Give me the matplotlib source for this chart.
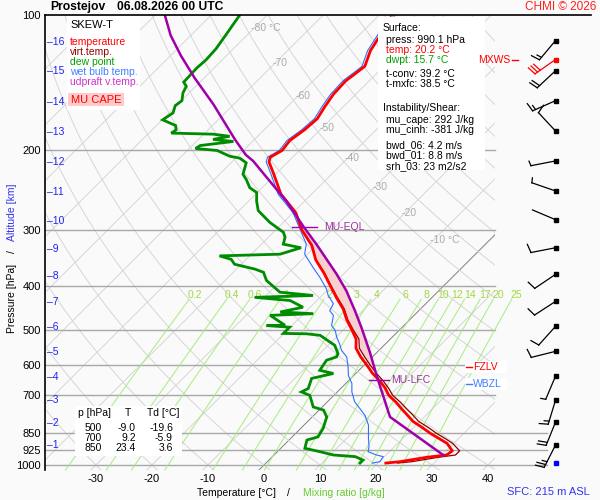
import numpy as np
import matplotlib
matplotlib.use("Agg")
import matplotlib.pyplot as plt
from matplotlib.patches import Rectangle

plt.rcParams['font.family'] = ['Liberation Sans', 'DejaVu Sans']

# ---------------- data ----------------
temp_p = [990, 983, 961, 950, 930, 895, 875, 850, 825, 800, 775, 750, 725, 700, 675, 650, 625,
          600, 575, 550, 525, 500, 475, 450, 425, 400, 375, 350, 325, 300, 275, 250, 225, 212,
          207, 200, 190, 180, 170, 160, 150, 140, 134, 130, 120, 110, 100]
temp_t = [21.4, 23.7, 27.7, 30.8, 31.1, 28.8, 26.7, 24.0, 21.5, 18.8, 16.7, 14.5, 12.3, 9.8, 7.9,
          5.6, 2.9, 0.5, -2.1, -4.5, -6.1, -8.6, -11.3, -13.8, -17.0, -20.2, -23.6, -27.5, -30.8,
          -35.4, -39.5, -45.5, -50.5, -53.4, -54.0, -53.1, -53.5, -52.8, -52.5, -53.3, -54.0,
          -54.2, -53.7, -53.4, -55.2, -56.3, -57.3]
virt_t = [23.5, 25.8, 29.8, 32.4, 32.4, 29.8, 27.8, 25.1, 22.6, 19.8, 17.7, 15.4, 13.1, 10.5, 8.5,
          6.2, 3.6, 1.1, -1.4, -3.9, -5.6, -8.35, -11.1, -13.6, -16.8, -20.1, -23.5, -27.45, -30.78,
          -35.4, -39.5, -45.5, -50.5, -53.4, -54.0, -53.1, -53.5, -52.8, -52.5, -53.3, -54.0,
          -54.2, -53.7, -53.4, -55.2, -56.3, -57.3]

dew_p = [990, 975, 958, 950, 934, 918, 880, 866, 829, 782, 755, 743, 700, 688, 676, 642, 626, 616,
         585, 575, 566, 542, 515, 511, 510, 494, 490, 489, 465, 461, 457, 446, 431, 424, 420, 413,
         389, 373, 367, 358, 349, 343, 340, 329, 323, 312, 304, 289, 272, 259, 248, 242, 232, 226,
         213, 208, 206, 200, 198, 195, 191, 189, 186, 184, 183, 180, 176, 171, 165, 159, 155, 149,
         144, 141, 131, 126, 119, 111, 105, 100]
dew_t = [16.8, 16.8, 14.8, 10.6, 7.6, 4.3, 3.2, 4.6, 4.0, 2.6, 0.8, -1.6, -4.3, -6.4, -5.8, -7.0,
         -4.0, -7.0, -7.6, -6.4, -6.7, -8.8, -13.2, -15.9, -20.1, -20.1, -24.5, -21.3, -25.7, -18.3,
         -24.5, -21.3, -24.8, -31.7, -21.6, -28.1, -32.6, -34.6, -36.7, -41.2, -42.7, -45.4, -34.9,
         -32.3, -36.1, -37.0, -38.2, -42.4, -46.6, -48.6, -50.1, -52.2, -54.3, -55.8, -57.3, -59.3,
         -61.4, -64.7, -68.9, -68.6, -63.4, -67.4, -65.0, -68.3, -76.0, -75.7, -76.6, -79.9, -79.3,
         -80.2, -79.9, -81.1, -81.7, -82.9, -83.1, -82.9, -83.1, -83.8, -84.4, -84.9]

wb_p = [990, 983, 958, 950, 934, 911, 873, 815, 775, 749, 724, 688, 659, 632, 606, 575, 556, 538,
        520, 502, 490, 465, 454, 438, 420, 406, 383, 364, 340, 323, 304, 275, 250, 225, 212, 207,
        200, 190, 180, 170, 160, 150, 140, 134, 130, 120, 110, 100]
wb_t = [19.0, 20.1, 19.8, 18.3, 16.2, 15.5, 13.9, 11.5, 9.1, 7.0, 4.9, 2.6, 1.1, -1.0, -2.5, -4.6,
        -6.7, -8.2, -9.9, -11.4, -12.9, -14.4, -15.9, -16.5, -18.9, -20.4, -23.6, -26.6, -30.5,
        -32.0, -35.0, -40.0, -46.0, -51.0, -53.9, -54.5, -53.6, -54.0, -53.3, -53.0, -53.8, -54.5,
        -54.7, -54.2, -53.9, -55.7, -56.8, -57.8]

parcel_p = [950, 782, 705, 637, 562, 494, 454, 410, 376, 323, 296, 259, 234, 211, 204.5, 189, 158,
            138, 123, 111, 100]
parcel_t = [30.2, 13.9, 9.1, 4.4, -1.25, -7.3, -11.4, -16.5, -21.3, -30.2, -35.5, -43.3, -49.8,
            -56.4, -58.8, -63.5, -73.6, -81.7, -88.2, -93.6, -98.3]

press_ticks = [100, 200, 300, 400, 500, 600, 700, 850, 925, 1000]
temp_ticks = [-30, -20, -10, 0, 10, 20, 30, 40]
mix_ratios = [0.2, 0.4, 0.6, 1, 2, 3, 4, 6, 8, 10, 12, 14, 17, 20, 25]
mix_labels = ['0.2', '0.4', '0.6', '1', '2', '3', '4', '6', '8', '10', '12', '14', '17', '20', '25']
alt_km = [1, 2, 3, 4, 5, 6, 7, 8, 9, 10, 11, 12, 13, 14, 15, 16]
alt_p = [903.0, 807.1, 717.6, 638.3, 561.8, 494.5, 435.3, 379.3, 330.5, 286.5, 247.1, 212.0,
         181.9, 156.1, 133.3, 115.0]
iso_lab_t = [-80, -70, -60, -50, -40, -30, -20, -10]
iso_lab_p = [107, 128, 151, 178, 208, 241, 276, 317]

wind_p = [903, 803, 718, 635, 559, 492, 433, 377, 329, 285, 246, 211, 181, 155, 133, 114]
wind_dir = [207, 202, 197, 203, 256, 222, 237, 236, 259, 293, 289, 259, 317, 246, 227, 220]
wind_spd = [25, 20, 15, 5, 10, 10, 10, 10, 10, 3, 5, 5, 10, 15, 20, 15]
sfc_p = 990
mxws_p, mxws_dir, mxws_spd = 125.6, 235, 30

lfc_p, eql_p = 648, 296
fzlv_p, wbzl_p = 606, 661

# ---------------- figure ----------------
BG = '#fafafa'
fig = plt.figure(figsize=(6, 5), dpi=100, facecolor=BG)
ax = fig.add_axes([45/600, 30/500, 450/600, 455/500])
ax.set_facecolor(BG)
P_BOT, P_TOP = 1025.8, 100.0
K = 35.0  # skew factor


def sx(t, p):
    return np.asarray(t, float) + K*np.log(1000.0/np.asarray(p, float))


ax.set_yscale('log')
ax.set_ylim(P_BOT, P_TOP)
ax.set_xlim(-39.1, 41.25)
ax.set_yticks(press_ticks)
ax.set_yticklabels([str(v) for v in press_ticks])
ax.yaxis.set_minor_locator(matplotlib.ticker.NullLocator())
ax.set_xticks(temp_ticks)
ax.set_xticklabels([str(v) for v in temp_ticks])
ax.tick_params(axis='both', length=0, labelsize=8, pad=3)
for s in ['top', 'right', 'bottom']:
    ax.spines[s].set_visible(False)
ax.spines['left'].set_linewidth(1.2)

grid_c = '#d6d6d6'
# isotherms
for t0 in range(-150, 50, 10):
    ps = np.array([P_BOT, P_TOP])
    ax.plot(sx(t0, ps), ps, color=('#808080' if t0 == 0 else grid_c), lw=0.7, zorder=1)
# dry adiabats
ps = np.geomspace(P_BOT, P_TOP, 80)
for th in range(-30, 260, 10):
    tt = (th + 273.15)*(ps/1000.0)**0.2857 - 273.15
    ax.plot(sx(tt, ps), ps, color=grid_c, lw=0.7, zorder=1)
# isobars
for pr in press_ticks[1:]:
    ext = 1.116 if pr >= 850 else 1.0
    ax.axhline(pr, xmin=0, xmax=ext, color='#a8a8a8', lw=1.0, zorder=2, clip_on=False)
# mixing ratio lines
pm = np.geomspace(P_BOT, 428, 40)
for w, lab in zip(mix_ratios, mix_labels):
    e = w*pm/(622.0 + w)
    a = np.log(e/6.112)
    td = 243.5*a/(17.67 - a)
    ax.plot(sx(td, pm), pm, color='#a6ec7c', lw=0.7, zorder=2, clip_on=False)
    e2 = w*418/(622.0 + w)
    a2 = np.log(e2/6.112)
    td2 = 243.5*a2/(17.67 - a2)
    ax.text(sx(td2, 418) + 0.4, 418, lab, color='#a0d840', fontsize=7.5,
            ha='center', va='center', zorder=3)
# isotherm labels
for t0, pl in zip(iso_lab_t, iso_lab_p):
    lab = f'{t0} °C' if t0 in (-80, -10) else f'{t0}'
    ax.text(sx(t0, pl) - 0.5, pl, lab, color='#aaaaaa', fontsize=7.5, ha='left', va='center',
            zorder=3)

# CAPE shading
pp = np.geomspace(lfc_p, eql_p, 300)
lp_par = np.log(np.array(parcel_p[::-1], float))
lp_t = np.log(np.array(temp_p[::-1], float))
par_i = np.interp(np.log(pp), lp_par, np.array(parcel_t[::-1]))
tv_i = np.interp(np.log(pp), lp_t, np.array(virt_t[::-1]))
ax.fill_betweenx(pp, sx(par_i, pp), sx(tv_i, pp), where=par_i > tv_i, color='#f9d0d0',
                 lw=0, zorder=3)

# profiles
ax.plot(sx(dew_t, dew_p), dew_p, color='#008c00', lw=2.0, zorder=5, solid_joinstyle='miter')
ax.plot(sx(virt_t, temp_p), temp_p, color='#8b0000', lw=0.9, zorder=5)
ax.plot(sx(wb_t, wb_p), wb_p, color='#2f6fff', lw=0.8, zorder=5.5)
ax.plot(sx(temp_t, temp_p), temp_p, color='#ff0000', lw=2.0, zorder=6)
tp_top = [p for p in temp_p if p <= 112]
tt_top = temp_t[len(temp_p) - len(tp_top):]
ax.plot(sx(tt_top, tp_top), tp_top, color='#ffa0a0', lw=2.0, zorder=6)
ax.plot(sx(parcel_t, parcel_p), parcel_p, color='#a000a8', lw=1.8, zorder=8)

# EQL / LFC markers
xe = float(np.interp(np.log(eql_p), lp_par, np.array(parcel_t[::-1]))) + K*np.log(1000/eql_p)
ax.plot([xe - 2.1, xe + 2.3], [eql_p, eql_p], color='#a000a8', lw=1.0, zorder=9)
ax.text(xe + 3.7, eql_p, 'MU-EQL', color='#993399', fontsize=7.5, va='center', ha='left', zorder=9)
xl = float(np.interp(np.log(lfc_p), lp_par, np.array(parcel_t[::-1]))) + K*np.log(1000/lfc_p)
ax.plot([xl - 1.6, xl + 2.0], [lfc_p, lfc_p], color='#a000a8', lw=1.0, zorder=9)
ax.text(xl + 2.3, lfc_p, 'MU-LFC', color='#993399', fontsize=7.5, va='center', ha='left', zorder=9)

# altitude labels
tr = ax.get_yaxis_transform()
for km, pk in zip(alt_km, alt_p):
    ax.text(0.004, pk, f'–{km}', transform=tr, color='#2222ee', fontsize=7.5, ha='left',
            va='center', zorder=9)

# ---------------- overlay (pixel coordinates) ----------------
ov = fig.add_axes([0, 0, 1, 1])
ov.set_xlim(0, 600)
ov.set_ylim(500, 0)
ov.axis('off')
ov.patch.set_alpha(0)


def ypix(p):
    d = ax.transData.transform([[0, p]])
    return ov.transData.inverted().transform(d)[0, 1]


ov.plot([45, 591], [15, 15], color='black', lw=1.2)

FS = 7.5
ov.text(50, 7, 'Prostejov', fontsize=8.7, fontweight='bold', va='center')
ov.text(117, 7, '06.08.2026 00 UTC', fontsize=8.7, fontweight='bold', va='center')
ov.text(596, 7, 'CHMI © 2026', fontsize=8.5, color='#ff2020', va='center', ha='right')
ov.text(590, 492, 'SFC: 215 m ASL', fontsize=8, color='#3333ee', va='center', ha='right')

ov.text(12, 298, 'Pressure [hPa]', rotation=90, fontsize=FS, ha='center', va='center')
ov.text(12, 252, '/', rotation=90, fontsize=FS, ha='center', va='center')
ov.text(12, 212, 'Altitude [km]', rotation=90, fontsize=FS, ha='center', va='center',
        color='#3333ee')
ov.text(197, 493, 'Temperature [°C]', fontsize=FS, ha='left', va='center')
ov.text(287, 493, '/', fontsize=FS, ha='left', va='center')
ov.text(303, 493, 'Mixing ratio [g/kg]', fontsize=FS, ha='left', va='center', color='#66cc33')

# legend box
ov.add_patch(Rectangle((67, 16), 73, 94, facecolor='white', edgecolor='none', zorder=1))
ov.text(70, 25, 'SKEW-T', fontsize=8, va='center', zorder=2)
for yy, txt, c in [(42, 'temperature', '#ff0000'), (52, 'virt.temp.', '#990000'),
                   (62, 'dew point', '#00a000'), (72, 'wet bulb temp.', '#3f7fff'),
                   (82, 'udpraft v.temp.', '#cc33cc')]:
    ov.text(70, yy, txt, fontsize=FS, color=c, va='center', zorder=2)
ov.add_patch(Rectangle((68, 93), 56, 13, facecolor='#ffcaca', edgecolor='none', zorder=2))
ov.text(96, 100, 'MU CAPE', fontsize=FS + 0.5, color='#ff0000', va='center', ha='center', zorder=3)

# info box
ov.add_patch(Rectangle((378, 17), 107, 153, facecolor='white', edgecolor='none', zorder=1))
info = [(383, 28, 'Surface:', 'black'), (386, 40, 'press: 990.1 hPa', 'black'),
        (386, 50, 'temp: 20.2 °C', '#ff0000'), (386, 60, 'dwpt: 15.7 °C', '#00a000'),
        (386, 74, 't-conv: 39.2 °C', 'black'), (386, 84, 't-mxfc: 38.5 °C', 'black'),
        (383, 108, 'Instability/Shear:', 'black'), (386, 120, 'mu_cape: 292 J/kg', 'black'),
        (386, 130, 'mu_cinh: -381 J/kg', 'black'), (386, 145, 'bwd_06: 4.2 m/s', 'black'),
        (386, 155, 'bwd_01: 8.8 m/s', 'black'), (386, 166, 'srh_03: 23 m2/s2', 'black')]
for x, y, t, c in info:
    ov.text(x, y, t, fontsize=FS, color=c, va='center', ha='left', zorder=2)

# table
ov.add_patch(Rectangle((75, 406), 107, 50, facecolor='white', edgecolor='none', zorder=1))
ov.text(78, 413, 'p [hPa]', fontsize=FS, va='center', zorder=2)
ov.text(128, 413, 'T', fontsize=FS, va='center', ha='center', zorder=2)
ov.text(147, 413, 'Td [°C]', fontsize=FS, va='center', zorder=2)
for yy, a, b, c in [(428, '500', '-9.0', '-19.6'), (438, '700', '9.2', '-5.9'),
                    (448, '850', '23.4', '3.6')]:
    ov.text(93.5, yy, a, fontsize=FS, va='center', ha='center', zorder=2)
    ov.text(136, yy, b, fontsize=FS, va='center', ha='right', zorder=2)
    ov.text(173, yy, c, fontsize=FS, va='center', ha='right', zorder=2)

# FZLV / WBZL
yf = ypix(fzlv_p)
ov.add_patch(Rectangle((465, yf - 6), 42, 12, facecolor='white', edgecolor='none', zorder=1))
ov.plot([466, 472], [yf, yf], color='#ff0000', lw=1.0, zorder=2)
ov.text(473, yf, 'FZLV', fontsize=FS, color='#ff0000', va='center', zorder=2)
yw = ypix(wbzl_p)
ov.add_patch(Rectangle((465, yw - 6), 42, 12, facecolor='white', edgecolor='none', zorder=1))
ov.plot([466, 472], [yw, yw], color='#3f7fff', lw=1.0, zorder=2)
ov.text(473, yw, 'WBZL', fontsize=FS, color='#3f7fff', va='center', zorder=2)


# wind barbs
def draw_barb(y0, d, spd, color, x0=555.5):
    r = np.deg2rad(d)
    sxv, syv = np.sin(r), -np.cos(r)
    L = 25.0
    ex, ey = x0 + sxv*L, y0 + syv*L
    ov.plot([x0, ex], [y0, ey], color=color, lw=0.9, zorder=3)
    px, py = -syv, sxv
    fx, fy = px*0.97 + sxv*0.22, py*0.97 + syv*0.22
    nfull = int(spd // 10)
    half = (spd % 10) >= 5
    lens = [9.0]*nfull + ([5.0] if half else [])
    for i, fl in enumerate(lens):
        bx, by = ex - sxv*3.2*i, ey - syv*3.2*i
        ov.plot([bx, bx + fx*fl], [by, by + fy*fl], color=color, lw=0.9, zorder=3)
    ov.plot([x0], [y0], marker='s', ms=2.6, color=color, zorder=4)


for p, d, s in zip(wind_p, wind_dir, wind_spd):
    draw_barb(ypix(p), d, s, 'black')
draw_barb(ypix(mxws_p), mxws_dir, mxws_spd, '#ff0000')
ov.plot([555.5], [ypix(sfc_p)], marker='s', ms=2.6, color='#0000ff', zorder=4)
ym = ypix(mxws_p)
ov.text(510, ym, 'MXWS', fontsize=FS, color='#ff0000', va='center', ha='right', zorder=2)
ov.plot([512, 518], [ym, ym], color='#ff0000', lw=1.0, zorder=2)

fig.savefig('out.png', dpi=100, facecolor=BG)
